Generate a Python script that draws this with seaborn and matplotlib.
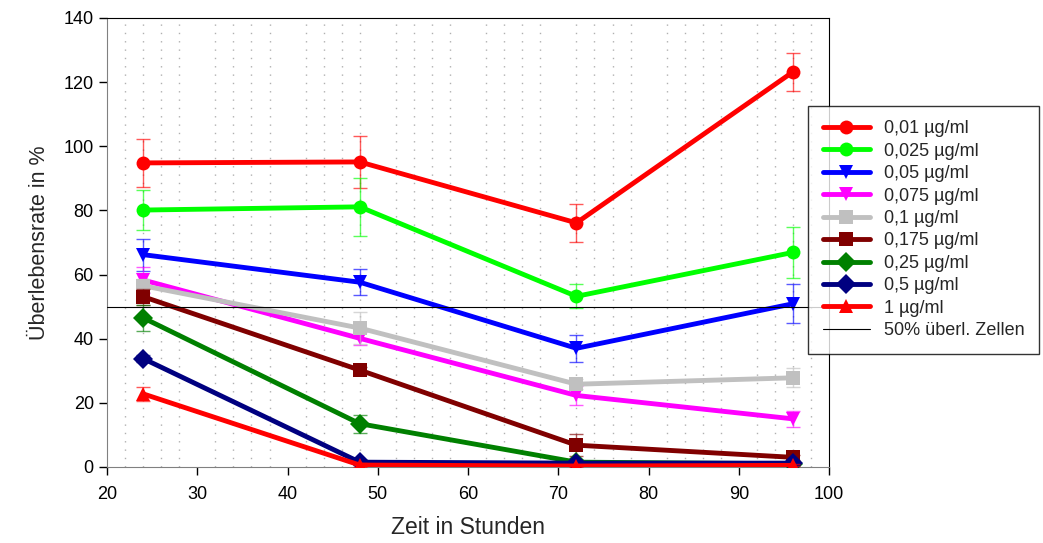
import numpy as np
import pandas as pd
import matplotlib
matplotlib.use('Agg')
import matplotlib.pyplot as plt
from matplotlib.ticker import MultipleLocator
from matplotlib.lines import Line2D
import seaborn as sns

# Messzeitpunkte (Stunden)
zeit = [24, 48, 72, 96]

konz = ['0,01 µg/ml', '0,025 µg/ml', '0,05 µg/ml', '0,075 µg/ml', '0,1 µg/ml',
        '0,175 µg/ml', '0,25 µg/ml', '0,5 µg/ml', '1 µg/ml']

# Überlebensrate in % je Konzentration
w_001 = [94.8, 95.1, 76.1, 123.2]
w_0025 = [80.1, 81.1, 53.2, 66.9]
w_005 = [66.2, 57.6, 37.0, 50.9]
w_0075 = [58.3, 40.1, 22.3, 15.0]
w_01 = [56.5, 43.3, 25.8, 27.8]
w_0175 = [53.1, 30.2, 6.8, 3.0]
w_025 = [46.5, 13.5, 1.5, 1.0]
w_05 = [33.8, 1.5, 1.2, 1.2]
w_1 = [22.8, 0.6, 0.3, 0.5]

# Standardabweichungen
sd_001 = [7.6, 8.0, 6.0, 6.0]
sd_0025 = [6.2, 9.0, 3.7, 8.0]
sd_005 = [5.0, 4.0, 4.2, 6.0]
sd_0075 = [4.0, 2.0, 3.0, 2.5]
sd_01 = [2.0, 5.0, 1.5, 3.0]
sd_0175 = [2.5, 1.0, 3.5, 0.8]
sd_025 = [4.0, 2.8, 0.8, 0.5]
sd_05 = [1.0, 0.8, 0.5, 0.5]
sd_1 = [2.2, 0.5, 0.3, 0.3]

werte = [w_001, w_0025, w_005, w_0075, w_01, w_0175, w_025, w_05, w_1]
fehler = [sd_001, sd_0025, sd_005, sd_0075, sd_01, sd_0175, sd_025, sd_05, sd_1]

farben = ['#ff0000', '#00ff00', '#0000ff', '#ff00ff', '#c0c0c0',
          '#800000', '#008000', '#000080', '#ff0000']
marker = ['o', 'o', 'v', 'v', 's', 's', 'D', 'D', '^']

df = pd.DataFrame({
    'Zeit': np.tile(zeit, len(konz)),
    'Rate': np.concatenate(werte),
    'SD': np.concatenate(fehler),
    'Konz': np.repeat(konz, len(zeit)),
})

sns.set_style('white')
plt.rcParams['font.family'] = ['Liberation Sans', 'DejaVu Sans']

fig, ax = plt.subplots(figsize=(10.43, 5.43), dpi=100)
fig.subplots_adjust(left=0.1026, right=0.795, top=0.967, bottom=0.14)

for i, k in enumerate(konz):
    d = df[df['Konz'] == k]
    ax.errorbar(d['Zeit'], d['Rate'], yerr=d['SD'], fmt='none', ecolor=farben[i],
                elinewidth=1, capsize=5, capthick=1, alpha=0.65, zorder=2 + i)
    sns.lineplot(data=d, x='Zeit', y='Rate', color=farben[i], marker=marker[i],
                 markersize=10, markeredgewidth=0, linewidth=3.5, ax=ax,
                 zorder=2.5 + i, label=None)

ax.axhline(50, color='black', linewidth=0.8, zorder=20)

ax.set_xlim(20, 100)
ax.set_ylim(0, 140)
ax.xaxis.set_major_locator(MultipleLocator(10))
ax.xaxis.set_minor_locator(MultipleLocator(2))
ax.yaxis.set_major_locator(MultipleLocator(20))
ax.grid(False)
ax.grid(which='minor', axis='x', color='#b0b0b0', linestyle=(0, (1, 5)), linewidth=1)
ax.tick_params(which='minor', length=0)
ax.tick_params(which='major', direction='out', length=6, width=1, colors='black',
               labelsize=13, bottom=True, left=True)
ax.tick_params(axis='x', pad=8)
for s in ax.spines.values():
    s.set_color('black')
    s.set_linewidth(0.8)
ax.spines['left'].set_color('#808080')
ax.spines['bottom'].set_color('#808080')

ax.set_xlabel('Zeit in Stunden', fontsize=16.5, labelpad=9)
ax.set_ylabel('Überlebensrate in %', fontsize=15.5, labelpad=10)

handles = [Line2D([], [], color=farben[i], marker=marker[i], markersize=10,
                  markeredgewidth=0, linewidth=3.5) for i in range(len(konz))]
handles.append(Line2D([], [], color='black', linewidth=0.8))
labels = konz + ['50% überl. Zellen']
if ax.get_legend() is not None:
    ax.get_legend().remove()
leg = fig.legend(handles, labels, loc='upper left', bbox_to_anchor=(0.775, 0.805),
                 fontsize=13, frameon=True, fancybox=False, edgecolor='black',
                 handlelength=2.6, labelspacing=0.3, borderpad=0.8, handletextpad=0.8,
                 borderaxespad=0)
leg.get_frame().set_linewidth(1)

fig.savefig('out.png', dpi=100)
